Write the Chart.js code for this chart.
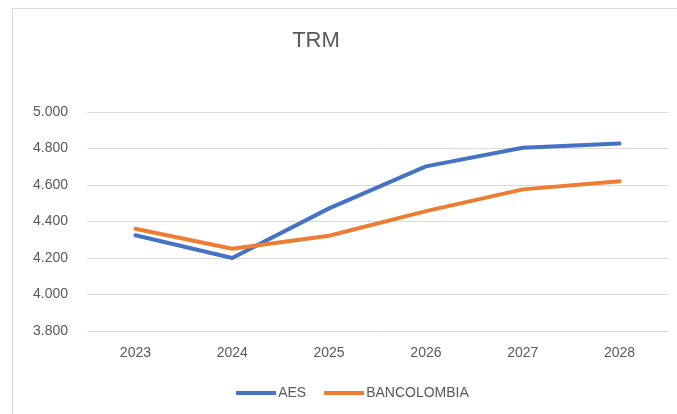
<!DOCTYPE html>
<html>
<head>
<meta charset="utf-8">
<script src="https://cdn.jsdelivr.net/npm/chart.js@4/dist/chart.umd.min.js"></script>
<style>
    html, body { margin: 0; padding: 0; background: #ffffff; overflow: hidden; }
    #frame {
        position: absolute; left: 12px; top: 8px;
        width: 700px; height: 440px;
        border: 1px solid #d9d9d9;
    }
    #trmChart { position: absolute; left: 0; top: 0; }
</style>
</head>
<body>
<div id="frame"></div>
<canvas id="trmChart" width="677" height="414"></canvas>
<script>
// Chart data
const chartTitle = 'TRM';
const years = ['2023', '2024', '2025', '2026', '2027', '2028'];
const aesValues = [4325, 4200, 4472, 4702, 4804, 4828];
const bancolombiaValues = [4360, 4251, 4322, 4457, 4576, 4620];
const yTickLabels = ['3.800', '4.000', '4.200', '4.400', '4.600', '4.800', '5.000'];
const yMin = 3800;
const yStep = 200;

const textColor = '#595959';
const gridColor = '#d9d9d9';
const blue = '#4472c4';
const orange = '#ed7d31';
const fontFamily = '"Liberation Sans", Arial, sans-serif';

// little line swatches for the legend (40px wide bars like the original)
function swatch(color) {
    const c = document.createElement('canvas');
    c.width = 40;
    c.height = 4;
    const g = c.getContext('2d');
    g.fillStyle = color;
    g.fillRect(0, 0, 40, 4);
    return c;
}

// title sits left of centre in the original, so it is drawn by hand
const titlePlugin = {
    id: 'offsetTitle',
    afterLayout(chart) {
        // the original legend is a bit right of the canvas centre too
        chart.legend.left += 21;
        chart.legend.right += 21;
    },
    afterDraw(chart) {
        const ctx = chart.ctx;
        ctx.save();
        ctx.fillStyle = textColor;
        ctx.font = '22px ' + fontFamily;
        ctx.textAlign = 'center';
        ctx.textBaseline = 'middle';
        ctx.fillText(chartTitle, 316, 41);
        ctx.restore();
    }
};

const ctx = document.getElementById('trmChart').getContext('2d');

new Chart(ctx, {
    type: 'line',
    data: {
        labels: years,
        datasets: [
            {
                label: 'AES',
                data: aesValues,
                borderColor: blue,
                backgroundColor: blue,
                borderWidth: 4,
                borderCapStyle: 'round',
                borderJoinStyle: 'round',
                pointRadius: 0,
                pointStyle: swatch(blue),
                tension: 0,
                order: 1
            },
            {
                label: 'BANCOLOMBIA',
                data: bancolombiaValues,
                borderColor: orange,
                backgroundColor: orange,
                borderWidth: 4,
                borderCapStyle: 'round',
                borderJoinStyle: 'round',
                pointRadius: 0,
                pointStyle: swatch(orange),
                tension: 0,
                order: 0
            }
        ]
    },
    options: {
        responsive: false,
        animation: false,
        devicePixelRatio: 1,
        layout: {
            padding: { left: 0, right: 9, top: 112, bottom: 4 }
        },
        plugins: {
            title: { display: false },
            tooltip: { enabled: false },
            legend: {
                display: true,
                position: 'bottom',
                labels: {
                    color: textColor,
                    font: { family: fontFamily, size: 14 },
                    usePointStyle: true,
                    pointStyleWidth: 30,
                    padding: 23,
                    sort: (a, b) => a.datasetIndex - b.datasetIndex
                }
            }
        },
        scales: {
            x: {
                offset: true,
                grid: { display: false, drawTicks: false },
                border: { display: false },
                afterFit: (scale) => { scale.height = 32; },
                ticks: {
                    color: textColor,
                    font: { family: fontFamily, size: 14 },
                    padding: 14,
                    maxRotation: 0
                }
            },
            y: {
                min: 3800,
                max: 5000,
                grid: { color: gridColor, lineWidth: 1, drawTicks: false },
                border: { display: false },
                afterFit: (scale) => { scale.width = 87; },
                ticks: {
                    stepSize: yStep,
                    color: textColor,
                    padding: 19,
                    font: { family: fontFamily, size: 14 },
                    callback: (value) => yTickLabels[Math.round((value - yMin) / yStep)]
                }
            }
        }
    },
    plugins: [titlePlugin]
});
</script>
</body>
</html>
